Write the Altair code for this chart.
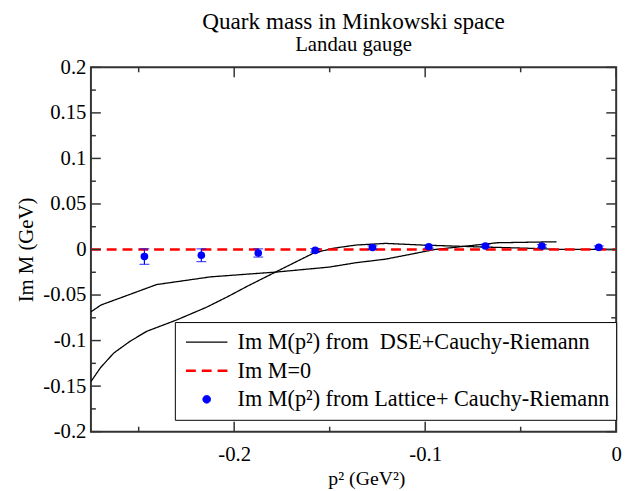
import altair as alt
import pandas as pd

# ---------------- data ----------------
S_DSE = "Im M(p\u00b2) from \u00a0DSE+Cauchy-Riemann"
S_ZERO = "Im M=0"
S_LAT = "Im M(p\u00b2) from Lattice+ Cauchy-Riemann"
series_names = [S_DSE, S_ZERO, S_LAT]

# DSE curve A (starts near -0.068)
dse_a_x = [-0.275, -0.2698, -0.2406, -0.2122, -0.1776, -0.1502, -0.1362, -0.1207, -0.0949, -0.0623, -0.0313]
dse_a_y = [-0.0685, -0.061, -0.0385, -0.030, -0.0247, -0.0193, -0.0145, -0.0106, 0.0, 0.0074, 0.0085]
# DSE curve B (starts near -0.145)
dse_b_x = [-0.275, -0.2699, -0.263, -0.2544, -0.2458, -0.2303, -0.2148, -0.2034, -0.1931, -0.1776,
           -0.1586, -0.1483, -0.1362, -0.1207, -0.1017, -0.0742, -0.0449, -0.0313, -0.0019]
dse_b_y = [-0.145, -0.1295, -0.1136, -0.1006, -0.0898, -0.0775, -0.0637, -0.0518, -0.0403, -0.024,
           -0.0041, 0.0013, 0.0049, 0.0067, 0.0049, 0.003, 0.0013, 0.0002, 0.0]
# Im M = 0 reference line
zero_x = [-0.275, 0.0]
zero_y = [0.0, 0.0]
# Lattice + Cauchy-Riemann points with errors
lat_x = [-0.247, -0.2172, -0.1874, -0.1576, -0.1276, -0.0981, -0.0685, -0.0389, -0.0091]
lat_y = [-0.0078, -0.0063, -0.0038, -0.001, 0.0022, 0.003, 0.0038, 0.0038, 0.0024]
lat_err = [0.0085, 0.007, 0.0045, 0.002, 0.0018, 0.0015, 0.0015, 0.0015, 0.0015]

# axis ticks
x_major = [-0.2, -0.1, 0.0]
x_minor = [-0.25, -0.15, -0.05]
y_major = [-0.2, -0.15, -0.1, -0.05, 0.0, 0.05, 0.1, 0.15, 0.2]
y_minor = [-0.175, -0.125, -0.075, -0.025, 0.025, 0.075, 0.125, 0.175]

# ---------------- tables ----------------
dse = pd.DataFrame({
    "x": dse_a_x + dse_b_x,
    "y": dse_a_y + dse_b_y,
    "curve": ["A"] * len(dse_a_x) + ["B"] * len(dse_b_x),
    "series": [S_DSE] * (len(dse_a_x) + len(dse_b_x)),
})
zero = pd.DataFrame({"x": zero_x, "y": zero_y, "curve": "Z", "series": S_ZERO})
lat = pd.DataFrame({"x": lat_x, "y": lat_y, "series": S_LAT})
lat["lo"] = [v - e for v, e in zip(lat_y, lat_err)]
lat["hi"] = [v + e for v, e in zip(lat_y, lat_err)]

W, H = 532, 369
FONT = "Liberation Serif"

xscale = alt.Scale(domain=[-0.275, 0.0], nice=False, zero=False)
yscale = alt.Scale(domain=[-0.2, 0.2], nice=False, zero=False)

neg_fix = "datum.value < 0 ? '-' + format(-datum.value, '~g') : format(datum.value, '~g')"

x_enc = alt.X("x:Q", scale=xscale, axis=alt.Axis(
    values=x_major, labelExpr=neg_fix, title="p\u00b2 (GeV\u00b2)", grid=False, domain=False,
    ticks=False, tickSize=0, labelPadding=12, labelFontSize=21, titleFontSize=20,
    titlePadding=5, titleX=279, labelFlush=False))
y_enc = alt.Y("y:Q", scale=yscale, axis=alt.Axis(
    values=y_major, labelExpr=neg_fix, title="Im M (GeV)", grid=False, domain=False,
    ticks=False, tickSize=0, labelPadding=5, labelFontSize=21, titleFontSize=21,
    titlePadding=6, labelFlush=False))

color = alt.Color("series:N", scale=alt.Scale(domain=series_names, range=["#000000", "#ff0000", "#0000ff"]),
                  legend=alt.Legend(title=None, orient="none", legendX=85, legendY=258,
                                    strokeColor="#000000", fillColor="#ffffff", padding=6,
                                    labelFont=FONT, labelFontSize=22.5, labelColor="#000000",
                                    labelLimit=1000, symbolOffset=15, labelOffset=20,
                                    clipHeight=28.5, rowPadding=0))
dash = alt.StrokeDash("series:N", scale=alt.Scale(type="ordinal", domain=series_names,
                                                  range=[[1, 0], [10, 6], [1, 0]]), legend=None)
swidth = alt.StrokeWidth("series:N", scale=alt.Scale(type="ordinal", domain=series_names,
                                                     range=[1.3, 2.5, 1.0]), legend=None)
shape = alt.Shape("series:N", scale=alt.Scale(domain=series_names,
                                              range=["M-3,0L3,0", "M-3,0L3,0", "circle"]), legend=None)
size = alt.Size("series:N", scale=alt.Scale(type="ordinal", domain=series_names,
                                            range=[196, 196, 60]), legend=None)

lines = alt.Chart(dse).mark_line(clip=True).encode(
    x=x_enc, y=y_enc, detail="curve:N", order="x:Q", color=color, strokeDash=dash, strokeWidth=swidth)
zline = alt.Chart(zero).mark_line(clip=True).encode(
    x="x:Q", y="y:Q", color=color, strokeDash=dash, strokeWidth=swidth)
ebars = alt.Chart(lat).mark_rule(color="#0000ff", strokeWidth=1.2).encode(x="x:Q", y="lo:Q", y2="hi:Q")
ecap_lo = alt.Chart(lat).mark_tick(color="#0000ff", orient="horizontal", size=10, thickness=1.2).encode(x="x:Q", y="lo:Q")
ecap_hi = alt.Chart(lat).mark_tick(color="#0000ff", orient="horizontal", size=10, thickness=1.2).encode(x="x:Q", y="hi:Q")
pts = alt.Chart(lat).mark_point(filled=True, opacity=1).encode(
    x="x:Q", y="y:Q", color=color, shape=shape, size=size)

# inward ticks on all four sides
TC = "#333333"
tx_maj = pd.DataFrame({"x": x_major})
tx_min = pd.DataFrame({"x": x_minor})
ty_maj = pd.DataFrame({"y": y_major})
ty_min = pd.DataFrame({"y": y_minor})
tick_layers = []
for df, L in [(tx_maj, 10), (tx_min, 5)]:
    tick_layers.append(alt.Chart(df).mark_rule(color=TC, strokeWidth=1.5).encode(
        x="x:Q", y=alt.value(H), y2=alt.value(H - L)))
    tick_layers.append(alt.Chart(df).mark_rule(color=TC, strokeWidth=1.5).encode(
        x="x:Q", y=alt.value(0), y2=alt.value(L)))
for df, L in [(ty_maj, 10), (ty_min, 5)]:
    tick_layers.append(alt.Chart(df).mark_rule(color=TC, strokeWidth=1.5).encode(
        y="y:Q", x=alt.value(0), x2=alt.value(L)))
    tick_layers.append(alt.Chart(df).mark_rule(color=TC, strokeWidth=1.5).encode(
        y="y:Q", x=alt.value(W), x2=alt.value(W - L)))

chart = alt.layer(lines, zline, ebars, ecap_lo, ecap_hi, pts, *tick_layers).properties(
    width=W, height=H,
    title=alt.Title("Quark mass in Minkowski space", subtitle="Landau gauge", anchor="middle",
                    font=FONT, fontSize=23.5, fontWeight="normal", color="#000000",
                    subtitleFont=FONT, subtitleFontSize=21, subtitleColor="#000000",
                    subtitlePadding=0, offset=2),
    autosize=alt.AutoSizeParams(type="none"),
    padding={"left": 84, "top": 57, "right": 14, "bottom": 57},
).configure(font=FONT).configure_axis(
    labelFont=FONT, titleFont=FONT, labelColor="#000000", titleColor="#000000", titleFontWeight="normal"
).configure_view(stroke="#333333", strokeWidth=2)

chart.save("out.html", embed_options={"renderer": "svg", "actions": False})
